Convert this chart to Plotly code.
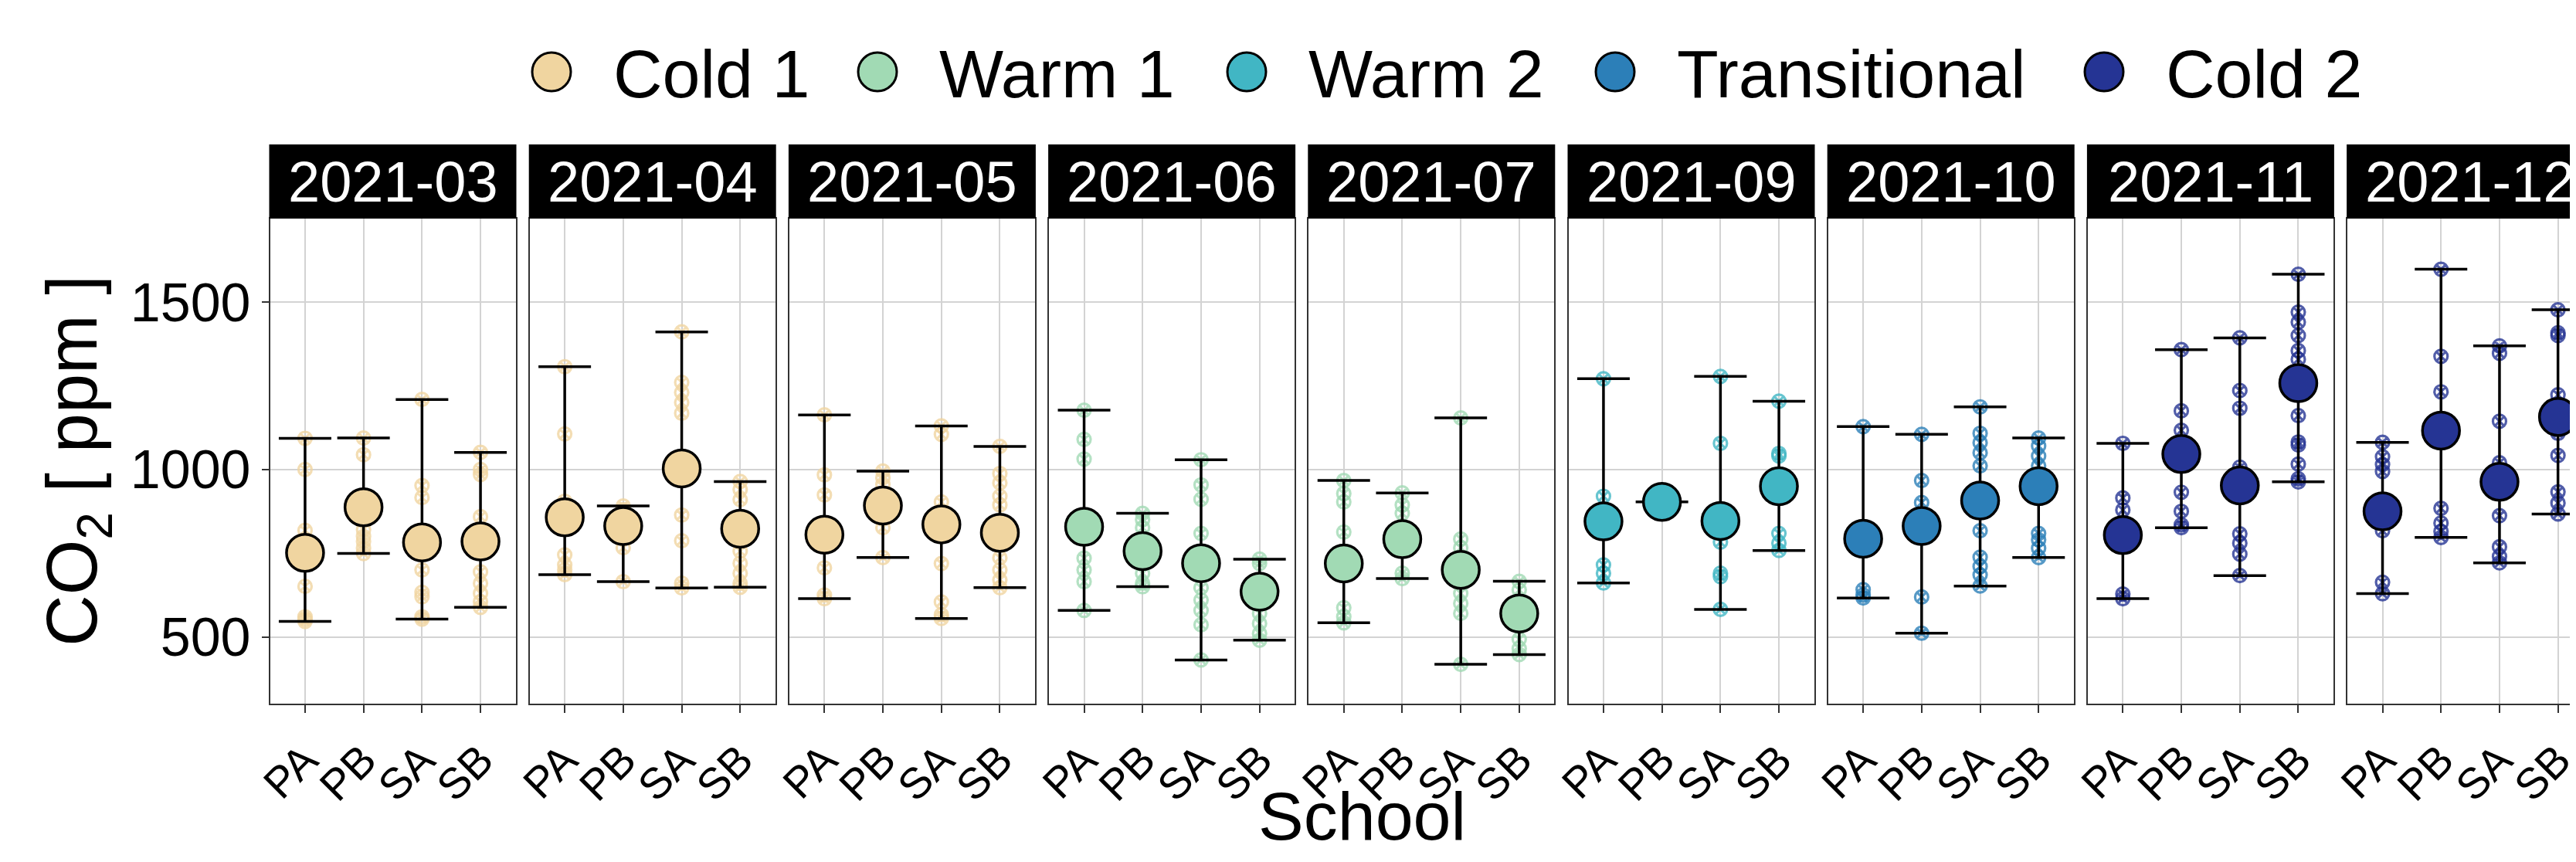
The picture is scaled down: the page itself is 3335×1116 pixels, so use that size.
import plotly.graph_objects as go

# ---------------- data ----------------
months = ['2021-03', '2021-04', '2021-05', '2021-06', '2021-07',
          '2021-09', '2021-10', '2021-11', '2021-12']
month_season = ['Cold 1', 'Cold 1', 'Cold 1', 'Warm 1', 'Warm 1',
                'Warm 2', 'Transitional', 'Cold 2', 'Cold 2']
seasons = ['Cold 1', 'Warm 1', 'Warm 2', 'Transitional', 'Cold 2']
season_colors = ['#F0D5A0', '#A1DAB4', '#41B6C4', '#2C7FB8', '#253494']
schools = ['PA', 'PB', 'SA', 'SB']
y_ticks = [500, 1000, 1500]

mean_co2 = [
    [751, 887, 782, 785],
    [857, 831, 1003, 823],
    [805, 892, 836, 811],
    [829, 756, 720, 635],
    [719, 792, 700, 570],
    [845, 903, 846, 950],
    [793, 831, 907, 950],
    [804, 1046, 952, 1258],
    [875, 1116, 963, 1157],
]
min_co2 = [
    [546, 749, 553, 588],
    [686, 665, 646, 648],
    [614, 737, 555, 647],
    [579, 650, 431, 490],
    [542, 674, 418, 447],
    [661, 903, 582, 758],
    [616, 511, 652, 737],
    [614, 826, 683, 963],
    [629, 797, 721, 867],
]
max_co2 = [
    [1093, 1094, 1209, 1051],
    [1307, 891, 1411, 964],
    [1163, 995, 1130, 1069],
    [1177, 869, 1029, 732],
    [967, 930, 1154, 666],
    [1271, 903, 1278, 1204],
    [1128, 1105, 1187, 1094],
    [1078, 1358, 1393, 1583],
    [1081, 1598, 1369, 1477],
]

# individual observations (PA, PB, SA, SB) per month
obs_2021_03 = [[1093, 1000, 818, 651, 560, 553, 546],
               [1094, 1044, 820, 800, 785, 765, 749],
               [1209, 952, 916, 700, 633, 620, 560, 553],
               [1051, 1000, 985, 859, 694, 660, 630, 605, 588]]
obs_2021_04 = [[1307, 1106, 905, 745, 715, 700, 686],
               [891, 880, 766, 665],
               [1411, 1260, 1230, 1200, 1168, 864, 787, 660, 646],
               [964, 940, 910, 756, 720, 690, 660, 648]]
obs_2021_05 = [[1163, 984, 924, 706, 625, 614],
               [995, 975, 955, 826, 737],
               [1130, 1105, 903, 719, 604, 566, 555],
               [1069, 988, 960, 920, 894, 736, 700, 670, 647]]
obs_2021_06 = [[1177, 1090, 1031, 735, 700, 665, 579],
               [869, 850, 826, 690, 660, 650],
               [1029, 954, 911, 809, 647, 610, 579, 536, 431],
               [732, 719, 570, 540, 510, 490]]
obs_2021_07 = [[967, 928, 903, 813, 587, 560, 542],
               [930, 894, 869, 690, 674],
               [1154, 792, 766, 630, 600, 570, 418],
               [666, 640, 493, 465, 447]]
obs_2021_09 = [[1271, 920, 715, 690, 661],
               [903],
               [1278, 1078, 783, 690, 680, 582],
               [1204, 1048, 1040, 809, 780, 758]]
obs_2021_10 = [[1128, 641, 625, 616],
               [1105, 967, 901, 619, 511],
               [1187, 1108, 1080, 1050, 1011, 817, 738, 710, 685, 652],
               [1094, 1070, 1040, 1011, 809, 790, 765, 737]]
obs_2021_11 = [[1078, 915, 879, 628, 614],
               [1358, 1175, 1117, 932, 875, 835, 826],
               [1393, 1236, 1183, 1007, 808, 780, 747, 683],
               [1583, 1470, 1440, 1400, 1355, 1329, 1161, 1082, 1073, 1016, 972, 963]]
obs_2021_12 = [[1081, 1038, 1015, 994, 817, 663, 629],
               [1598, 1338, 1232, 884, 840, 815, 797],
               [1369, 1347, 1144, 1020, 862, 769, 740, 721],
               [1477, 1408, 1400, 1223, 1108, 1042, 933, 900, 867]]
observations = [obs_2021_03, obs_2021_04, obs_2021_05, obs_2021_06, obs_2021_07,
                obs_2021_09, obs_2021_10, obs_2021_11, obs_2021_12]

# ---------------- layout geometry (pixels) ----------------
W, H = 3335, 1116
FONT = 'Liberation Sans, Arial, sans-serif'
PANEL_L0, STRIDE, PW = 341.5, 336.2, 318.0
P_TOP, P_BOT, STRIP_TOP = 275.0, 902.5, 179.0
Y_RANGE = [301.6, 1749.4]
PX_PER_CAT = PW / 4.2
LEGEND_Y = 85.0
legend_marker_x = [706, 1128, 1606, 2083, 2716]


def fx(x):
    return x / W


def fy(y):
    return 1 - y / H


fig = go.Figure()
shapes, annotations = [], []
layout = {}

for i, month in enumerate(months):
    sfx = '' if i == 0 else str(i + 1)
    color = season_colors[seasons.index(month_season[i])]
    left = PANEL_L0 + i * STRIDE
    right = min(left + PW, W)
    last = right < left + PW - 1
    xr_hi = -0.6 + (right - left) / PX_PER_CAT

    xs, ys = [], []
    for j, s in enumerate(schools):
        xs += [s] * len(observations[i][j])
        ys += observations[i][j]
    fig.add_trace(go.Scatter(
        x=xs, y=ys, mode='markers', xaxis='x' + sfx, yaxis='y' + sfx,
        marker=dict(symbol='circle-x-open', size=17, color=color, opacity=0.8,
                    line=dict(width=3.2, color=color)),
        showlegend=False, cliponaxis=False, hoverinfo='y'))

    plus = [max_co2[i][j] - mean_co2[i][j] for j in range(4)]
    minus = [mean_co2[i][j] - min_co2[i][j] for j in range(4)]
    fig.add_trace(go.Scatter(
        x=schools, y=mean_co2[i], mode='markers', xaxis='x' + sfx, yaxis='y' + sfx,
        error_y=dict(type='data', symmetric=False, array=plus, arrayminus=minus,
                     color='black', thickness=3.5, width=34),
        marker=dict(symbol='circle', size=48, color=color,
                    line=dict(width=3.5, color='black')),
        showlegend=False, cliponaxis=False, name=month_season[i]))

    layout['xaxis' + sfx] = dict(
        domain=[fx(left), fx(right)], anchor='y' + sfx, type='category',
        categoryorder='array', categoryarray=schools, range=[-0.6, xr_hi],
        showgrid=True, gridcolor='#D3D3D3', gridwidth=2, zeroline=False,
        showline=True, mirror=True, linecolor='#333333', linewidth=2,
        ticks='outside', ticklen=10, tickwidth=2, tickcolor='#333333',
        tickangle=-45, ticklabelstandoff=6,
        tickfont=dict(size=56, color='black', family=FONT),
        automargin=False, fixedrange=True)
    layout['yaxis' + sfx] = dict(
        domain=[fy(P_BOT), fy(P_TOP)], anchor='x' + sfx, range=Y_RANGE,
        tickvals=y_ticks, showgrid=True, gridcolor='#D3D3D3', gridwidth=2,
        zeroline=False, showline=True, mirror=not last, linecolor='#333333',
        linewidth=2, ticks='outside' if i == 0 else '', ticklen=9, tickwidth=2,
        tickcolor='#333333', showticklabels=(i == 0),
        tickfont=dict(size=70, color='black', family=FONT),
        automargin=False, fixedrange=True)

    shapes.append(dict(type='rect', xref='paper', yref='paper', layer='above',
                       x0=fx(left - 1), x1=fx(right + (0 if last else 1)),
                       y0=fy(P_TOP), y1=fy(STRIP_TOP),
                       fillcolor='black', line=dict(width=0)))
    annotations.append(dict(text=month, xref='paper', yref='paper',
                            x=fx((left + left + PW) / 2), y=fy((P_TOP + STRIP_TOP) / 2),
                            xanchor='center', yanchor='middle', showarrow=False,
                            font=dict(size=74, color='white', family=FONT)))

# legend drawn on a hidden pixel-scaled axis
fig.add_trace(go.Scatter(
    x=legend_marker_x, y=[LEGEND_Y] * len(seasons), mode='markers',
    xaxis='x10', yaxis='y10',
    marker=dict(symbol='circle', size=50, color=season_colors,
                line=dict(width=3, color='black')),
    showlegend=False, cliponaxis=False, hoverinfo='skip'))
layout['xaxis10'] = dict(domain=[0, 1], range=[0, W], visible=False, fixedrange=True)
layout['yaxis10'] = dict(domain=[0, 1], range=[H, 0], visible=False, fixedrange=True,
                         anchor='x10')
for k, s in enumerate(seasons):
    annotations.append(dict(text=s, xref='paper', yref='paper',
                            x=fx(legend_marker_x[k] + 78), y=fy(LEGEND_Y + 3),
                            xanchor='left', yanchor='middle', showarrow=False,
                            font=dict(size=88, color='black', family=FONT)))

# axis titles
annotations.append(dict(text='CO<sub>2</sub> [ ppm ]', xref='paper', yref='paper',
                        x=fx(92), y=fy((P_TOP + P_BOT) / 2), textangle=-90,
                        xanchor='center', yanchor='middle', showarrow=False,
                        font=dict(size=92, color='black', family=FONT)))
annotations.append(dict(text='School', xref='paper', yref='paper',
                        x=fx(1755), y=fy(1048), xanchor='center', yanchor='middle',
                        showarrow=False, font=dict(size=88, color='black', family=FONT)))

fig.update_layout(
    width=W, height=H, autosize=False,
    margin=dict(l=0, r=0, t=0, b=0, pad=0),
    paper_bgcolor='white', plot_bgcolor='rgba(0,0,0,0)',
    showlegend=False, shapes=shapes, annotations=annotations,
    font=dict(family=FONT, color='black'),
    **layout)

fig.write_html('out.html')
